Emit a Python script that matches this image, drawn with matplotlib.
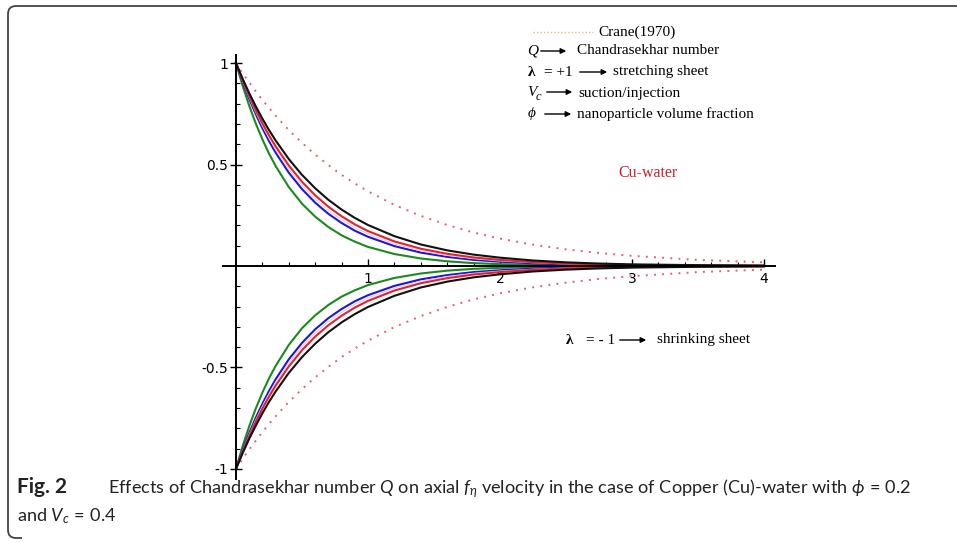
import matplotlib
matplotlib.use("Agg")
import matplotlib.pyplot as plt
from matplotlib.path import Path
from matplotlib.patches import PathPatch, FancyArrowPatch
from matplotlib.lines import Line2D
import numpy as np

# valores (metade superior, lambda = +1); a metade inferior e o espelho
eta = [0, 0.05, 0.1, 0.15, 0.2, 0.25, 0.3, 0.4, 0.5, 0.6, 0.7, 0.8, 0.9, 1.0,
       1.2, 1.4, 1.6, 1.8, 2.0, 2.25, 2.5, 2.75, 3.0, 3.5, 4.0]
crane = [1.0, 0.951, 0.905, 0.861, 0.819, 0.779, 0.741, 0.670, 0.607, 0.549,
         0.497, 0.449, 0.407, 0.368, 0.301, 0.247, 0.202, 0.165, 0.135, 0.105,
         0.082, 0.064, 0.050, 0.030, 0.018]
f_black = [1.0, 0.923, 0.852, 0.787, 0.726, 0.670, 0.619, 0.527, 0.449, 0.383,
           0.326, 0.278, 0.237, 0.202, 0.147, 0.106, 0.077, 0.056, 0.041, 0.027,
           0.018, 0.012, 0.008, 0.004, 0.002]
f_red = [1.0, 0.916, 0.839, 0.768, 0.703, 0.644, 0.590, 0.495, 0.415, 0.348,
         0.292, 0.245, 0.205, 0.172, 0.121, 0.085, 0.060, 0.042, 0.030, 0.019,
         0.012, 0.008, 0.005, 0.002, 0.001]
f_pink = [1.0, 0.912, 0.831, 0.758, 0.691, 0.630, 0.574, 0.477, 0.397, 0.330,
          0.274, 0.228, 0.189, 0.157, 0.109, 0.075, 0.052, 0.036, 0.025, 0.016,
          0.010, 0.006, 0.004, 0.002, 0.001]
f_blue = [1.0, 0.908, 0.824, 0.748, 0.679, 0.616, 0.559, 0.460, 0.379, 0.312,
          0.257, 0.212, 0.174, 0.144, 0.098, 0.066, 0.045, 0.030, 0.021, 0.013,
          0.008, 0.005, 0.003, 0.001, 0.0]
f_green = [1.0, 0.889, 0.790, 0.702, 0.624, 0.554, 0.493, 0.389, 0.307, 0.243,
           0.192, 0.151, 0.120, 0.094, 0.059, 0.037, 0.023, 0.014, 0.009, 0.005,
           0.003, 0.002, 0.001, 0.0, 0.0]

x_ticks = [1, 2, 3, 4]
y_ticks = [-1, -0.5, 0.5, 1]
y_labels = ["-1", "-0.5", "0.5", "1"]

W, H = 957, 543

plt.rcParams['mathtext.fontset'] = 'custom'
plt.rcParams['mathtext.rm'] = 'Lato'
plt.rcParams['mathtext.it'] = 'Lato:italic'
plt.rcParams['mathtext.bf'] = 'Lato:bold'


def fx(x):
    return x / W


def fy(y):
    return 1 - y / H


fig = plt.figure(figsize=(W / 100, H / 100), dpi=100, facecolor="w")
ax = fig.add_axes([fx(222.8), fy(479), (774.6 - 222.8) / W, (479 - 55) / H])

# curvas
curvas = [(f_green, "#1b8a1b", 1.5), (f_blue, "#1a1ad6", 1.5),
          (f_pink, "#f2c4e6", 0.8), (f_red, "#e0242a", 1.5),
          (f_black, "#111111", 1.5)]
ax.plot(eta, crane, color="#e2606c", lw=1.4, ls=(0, (1, 3.2)))
ax.plot(eta, [-v for v in crane], color="#e2606c", lw=1.4, ls=(0, (1, 3.2)))
for f, c, lw in curvas:
    ax.plot(eta, f, color=c, lw=lw)
    ax.plot(eta, [-v for v in f], color=c, lw=lw)

ax.set_xlim(-0.1, 4.08)
ax.set_ylim(-1.05, 1.04)

# eixos cruzando na origem
for s in ["top", "right"]:
    ax.spines[s].set_visible(False)
ax.spines["left"].set_position(("data", 0))
ax.spines["bottom"].set_position(("data", 0))
ax.spines["left"].set_linewidth(1.4)
ax.spines["bottom"].set_linewidth(1.4)
ax.set_xticks(x_ticks)
ax.set_xticklabels([str(t) for t in x_ticks])
ax.set_xticks(np.arange(0.2, 4.01, 0.2), minor=True)
ax.set_yticks(y_ticks)
ax.set_yticklabels(y_labels)
ax.set_yticks([v for v in np.arange(-1.0, 1.01, 0.1) if abs(v) > 1e-9], minor=True)
ax.tick_params(axis="x", which="major", direction="in", length=5, width=1, labelsize=10, pad=4)
ax.tick_params(axis="x", which="minor", direction="in", length=3, width=0.8)
ax.tick_params(axis="y", which="major", direction="inout", length=8, width=1, labelsize=10, pad=1.5)
ax.tick_params(axis="y", which="minor", direction="in", length=3, width=0.8)
ax.patch.set_visible(False)

# legenda (texto em serif)
serif = "Liberation Serif"
fs = 11


def seta(x0, x1, y):
    fig.add_artist(FancyArrowPatch(
        (fx(x0), fy(y)), (fx(x1), fy(y)), transform=fig.transFigure,
        arrowstyle="-|>", mutation_scale=8, lw=1.0, color="k"))


fig.add_artist(Line2D([fx(533), fx(593)], [fy(32), fy(32)], transform=fig.transFigure,
                      color="#e8b878", lw=1.0, ls=(0, (1, 1.5))))
fig.text(fx(598), fy(32), "Crane(1970)", family=serif, size=fs, va="center")

fig.text(fx(527), fy(51), "Q", family=serif, style="italic", size=fs, va="center")
seta(538, 569, 51)
fig.text(fx(577), fy(51), "Chandrasekhar number", family=serif, size=fs, va="center")

fig.text(fx(528), fy(72), "λ", family=serif, weight="bold", size=fs, va="center")
fig.text(fx(544), fy(72), "= +1", family=serif, size=fs, va="center")
seta(577, 610, 72)
fig.text(fx(613), fy(72), "stretching sheet", family=serif, size=fs, va="center")

fig.text(fx(527), fy(92), "V", family=serif, style="italic", size=fs, va="center")
fig.text(fx(536), fy(97), "c", family=serif, style="italic", size=fs - 2, va="center")
seta(544, 575, 92)
fig.text(fx(578), fy(93), "suction/injection", family=serif, size=fs, va="center")

fig.text(fx(528), fy(114), "ϕ", family=serif, style="italic", size=fs, va="center")
seta(542, 574, 114)
fig.text(fx(577), fy(114), "nanoparticle volume fraction", family=serif, size=fs, va="center")

fig.text(fx(618), fy(173), "Cu-water", family=serif, size=11.5, color="#c8202a", va="center")

fig.text(fx(566), fy(340), "λ", family=serif, weight="bold", size=fs, va="center")
fig.text(fx(586), fy(340), "= - 1", family=serif, size=fs, va="center")
seta(617, 649, 340)
fig.text(fx(657), fy(340), "shrinking sheet", family=serif, size=fs, va="center")

# legenda da figura
fig.text(fx(17), fy(493), "Fig. 2", family="Lato", weight="bold", size=15,
         color="#222222", va="baseline")
fig.text(fx(108), fy(493),
         r"Effects of Chandrasekhar number $Q$ on axial $f_\eta$ velocity in the case "
         r"of Copper (Cu)-water with $\phi\,=\,0.2$",
         family="Lato", size=13.1, color="#222222", va="baseline")
fig.text(fx(17), fy(521), r"and $V_c\,=\,0.4$", family="Lato", size=13.1,
         color="#222222", va="baseline")

# moldura arredondada
r = 8
verts = [(fx(W + 5), fy(6)), (fx(8 + r), fy(6)), (fx(8), fy(6)), (fx(8), fy(6 + r)),
         (fx(8), fy(538 - r)), (fx(8), fy(538)), (fx(8 + r), fy(538)), (fx(22), fy(538))]
codes = [Path.MOVETO, Path.LINETO, Path.CURVE3, Path.CURVE3,
         Path.LINETO, Path.CURVE3, Path.CURVE3, Path.LINETO]
fig.add_artist(PathPatch(Path(verts, codes), transform=fig.transFigure,
                         fill=False, lw=1.3, edgecolor="#444444"))

fig.savefig("out.png", dpi=100, facecolor="w")
